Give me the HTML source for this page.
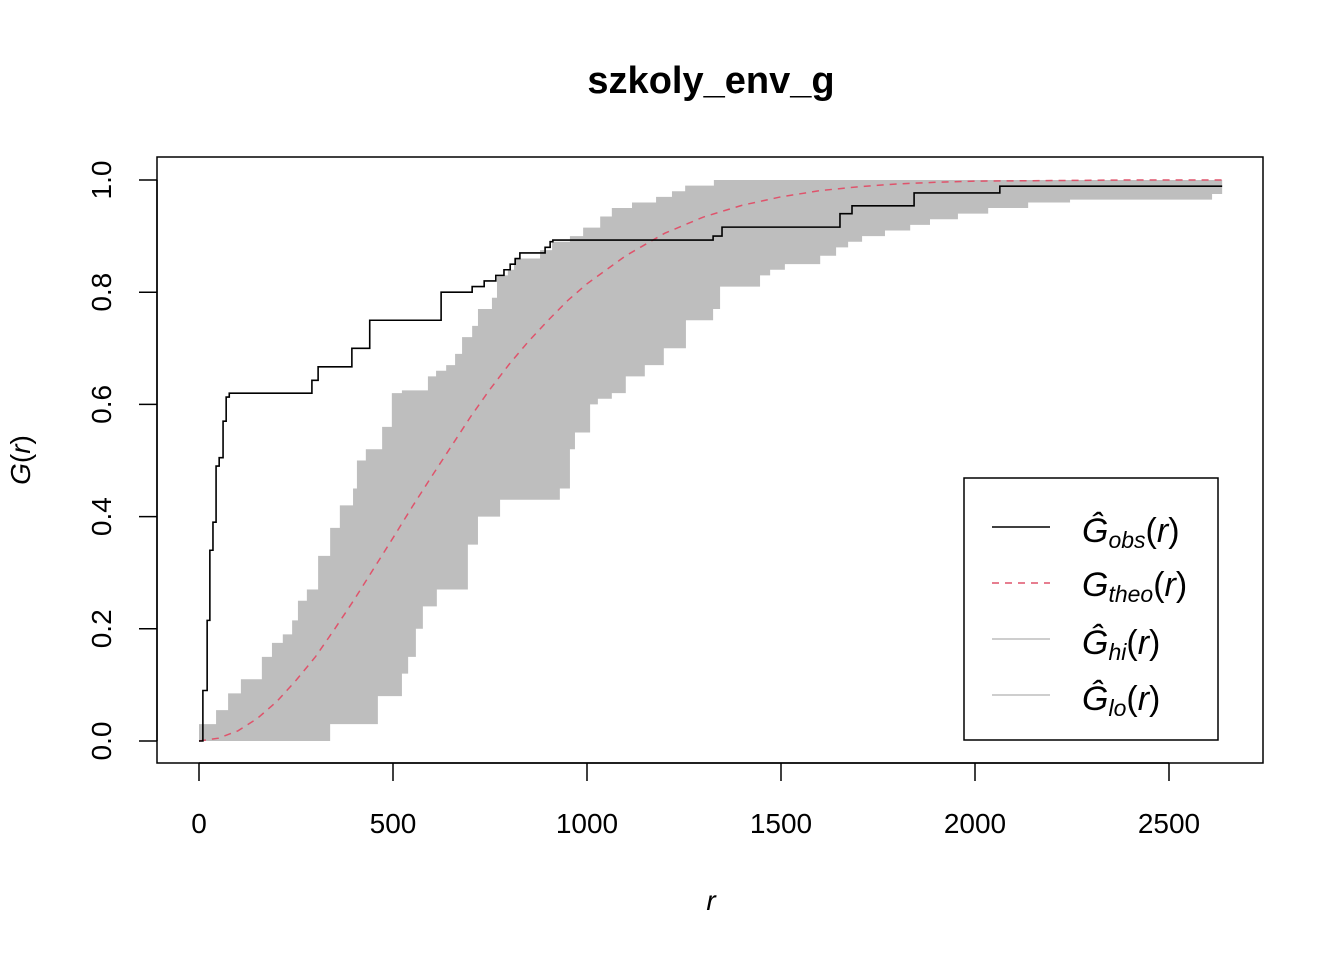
<!DOCTYPE html>
<html><head><meta charset="utf-8"><style>
body{margin:0;background:#fff}
svg text{font-family:"Liberation Sans",sans-serif}
</style></head><body>
<svg id="c" width="1344" height="960" viewBox="0 0 1344 960">
<text x="711" y="93" text-anchor="middle" font-size="38" font-weight="bold">szkoly_env_g</text>
<g id="plot"></g>
<rect x="157" y="157" width="1106" height="606" fill="none" stroke="#000" stroke-width="1.5"/>
<text x="711" y="910" text-anchor="middle" font-size="28" font-style="italic">r</text>
<text transform="translate(30,460) rotate(-90)" text-anchor="middle" font-size="28"><tspan font-style="italic">G</tspan>(<tspan font-style="italic">r</tspan>)</text>
<g>
<rect x="964" y="478" width="254" height="262" fill="#fff" stroke="#000" stroke-width="1.5"/>
<line x1="992" y1="527" x2="1050" y2="527" stroke="#000" stroke-width="1.5"/>
<text x="1082" y="542" font-size="34" font-style="italic">Ĝ<tspan font-size="23" dy="6">obs</tspan><tspan font-style="normal" dy="-6">(</tspan>r<tspan font-style="normal">)</tspan></text>
<line x1="992" y1="583" x2="1050" y2="583" stroke="#DF536B" stroke-width="1.5" stroke-dasharray="7,6"/>
<text x="1082" y="596" font-size="34" font-style="italic">G<tspan font-size="23" dy="6">theo</tspan><tspan font-style="normal" dy="-6">(</tspan>r<tspan font-style="normal">)</tspan></text>
<line x1="992" y1="639" x2="1050" y2="639" stroke="#bebebe" stroke-width="1.5"/>
<text x="1082" y="654" font-size="34" font-style="italic">Ĝ<tspan font-size="23" dy="6">hi</tspan><tspan font-style="normal" dy="-6">(</tspan>r<tspan font-style="normal">)</tspan></text>
<line x1="992" y1="695" x2="1050" y2="695" stroke="#bebebe" stroke-width="1.5"/>
<text x="1082" y="710" font-size="34" font-style="italic">Ĝ<tspan font-size="23" dy="6">lo</tspan><tspan font-style="normal" dy="-6">(</tspan>r<tspan font-style="normal">)</tspan></text>
</g>
</svg>
<script>
const xTicks=[0,500,1000,1500,2000,2500];
const yTicks=[0,0.2,0.4,0.6,0.8,1.0];
const yTickLabels=["0.0","0.2","0.4","0.6","0.8","1.0"];
const rMax=2637;
const hiR=[0,44,75,108,162,188,216,240,255,278,307,338,363,397,407,430,472,497,523,590,611,637,660,678,704,719,755,768,796,812,879,910,956,990,1034,1064,1116,1178,1219,1253,1327];
const hiG=[0.03,0.055,0.085,0.11,0.15,0.175,0.19,0.215,0.25,0.27,0.33,0.38,0.42,0.45,0.5,0.52,0.56,0.62,0.625,0.65,0.66,0.67,0.69,0.72,0.74,0.77,0.79,0.83,0.84,0.86,0.875,0.89,0.9,0.915,0.935,0.95,0.96,0.97,0.98,0.99,1.0];
const loR=[0,338,461,523,539,559,577,613,693,719,776,930,956,969,1008,1028,1064,1100,1149,1198,1255,1325,1343,1446,1472,1510,1601,1642,1673,1709,1768,1833,1884,1956,2034,2137,2245,2611];
const loG=[0,0.03,0.08,0.12,0.15,0.2,0.24,0.27,0.35,0.4,0.43,0.45,0.52,0.55,0.6,0.61,0.62,0.65,0.67,0.7,0.75,0.77,0.81,0.83,0.84,0.85,0.865,0.88,0.89,0.9,0.91,0.92,0.93,0.94,0.95,0.96,0.965,0.975];
const obsR=[0,10,21,28,36,44,52,62,70,78,291,307,394,440,624,704,735,765,786,802,815,827,892,905,912,1325,1348,1652,1683,1843,2064];
const obsG=[0,0.09,0.215,0.34,0.39,0.49,0.505,0.57,0.613,0.62,0.643,0.667,0.70,0.75,0.80,0.81,0.82,0.83,0.84,0.85,0.86,0.87,0.88,0.89,0.893,0.90,0.916,0.94,0.954,0.977,0.989];
const theoR=[0,50,100,150,200,250,300,350,400,450,500,550,600,650,700,750,800,850,900,950,1000,1100,1200,1300,1400,1500,1600,1700,1800,1900,2000,2200,2400,2637];
const theoG=[0,0.005,0.018,0.04,0.07,0.108,0.15,0.2,0.252,0.307,0.362,0.418,0.472,0.525,0.578,0.627,0.672,0.713,0.75,0.785,0.815,0.865,0.905,0.934,0.955,0.97,0.981,0.988,0.993,0.996,0.998,0.999,1,1];
const X=r=>199+r*970/2500, Y=g=>741-g*561;
const NS="http://www.w3.org/2000/svg";
const plot=document.getElementById('plot'), svg=document.getElementById('c');
function mk(t,a,p){const e=document.createElementNS(NS,t);for(const k in a)e.setAttribute(k,a[k]);(p||plot).appendChild(e);return e;}
function stepPts(R,G){let p=[];for(let i=0;i<R.length;i++){if(i>0)p.push([X(R[i]),Y(G[i-1])]);p.push([X(R[i]),Y(G[i])]);}p.push([X(rMax),Y(G[G.length-1])]);return p;}
const hp=stepPts(hiR,hiG), lp=stepPts(loR,loG);
const band=mk('path',{d:'M'+hp.map(p=>p.join(',')).join('L')+'L'+lp.reverse().map(p=>p.join(',')).join('L')+'Z',fill:'#bebebe',stroke:'none'});


const th=mk('polyline',{points:theoR.map((r,i)=>X(r)+','+Y(theoG[i])).join(' '),fill:'none',stroke:'#DF536B','stroke-width':1.5,'stroke-dasharray':'7,6'});


const ob=mk('polyline',{points:stepPts(obsR,obsG).map(p=>p.join(',')).join(' '),fill:'none',stroke:'#000','stroke-width':1.6});


const ax=mk('g',{},svg);


mk('line',{x1:X(0),x2:X(2500),y1:763,y2:763,stroke:'#000','stroke-width':1.5},ax);
xTicks.forEach(v=>{mk('line',{x1:X(v),x2:X(v),y1:763,y2:781,stroke:'#000','stroke-width':1.5},ax);
const t=mk('text',{x:X(v),y:833,'text-anchor':'middle','font-size':28},ax);t.textContent=v;

});
mk('line',{x1:157,x2:157,y1:Y(0),y2:Y(1),stroke:'#000','stroke-width':1.5},ax);
yTicks.forEach((v,i)=>{mk('line',{x1:139,x2:157,y1:Y(v),y2:Y(v),stroke:'#000','stroke-width':1.5},ax);
const t=mk('text',{transform:`translate(111,${Y(v)}) rotate(-90)`,'text-anchor':'middle','font-size':28},ax);t.textContent=yTickLabels[i];

});
</script>
</body></html>
